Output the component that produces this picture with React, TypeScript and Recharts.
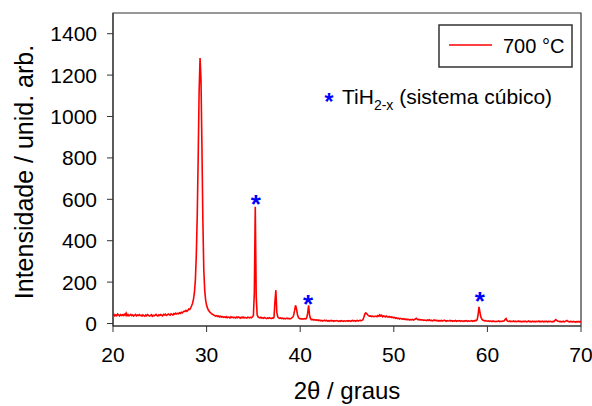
import React from 'react';
import {
  ComposedChart,
  Line,
  Scatter,
  XAxis,
  YAxis,
  ReferenceArea,
  Customized,
} from 'recharts';

const FONT = '"Liberation Sans", Arial, sans-serif';

// XRD scan: start angle, step (degrees 2θ) and counts, one row per degree
const scanStart = 20;
const scanStep = 0.1;
const counts = [
  40, 44, 37, 42, 38, 46, 41, 36, 43, 39, // 20
  42, 38, 45, 40, 50, 38, 43, 37, 41, 44, // 21
  38, 42, 36, 40, 44, 37, 41, 39, 43, 38, // 22
  40, 36, 42, 38, 35, 41, 37, 43, 39, 36, // 23
  38, 42, 35, 40, 37, 41, 44, 38, 36, 42, // 24
  39, 43, 40, 37, 44, 41, 45, 39, 42, 46, // 25
  43, 40, 47, 44, 41, 48, 45, 50, 46, 49, // 26
  47, 52, 49, 54, 51, 57, 60, 58, 63, 59, // 27
  64, 70, 68, 76, 86, 98, 118, 150, 210, 330, // 28
  520, 800, 1120, 1283, 1180, 860, 500, 260, 160, 112, // 29
  88, 74, 64, 58, 52, 49, 45, 43, 40, 38, // 30
  36, 38, 34, 36, 32, 35, 31, 33, 30, 32, // 31
  29, 33, 28, 31, 30, 27, 32, 29, 31, 28, // 32
  30, 27, 31, 28, 32, 29, 26, 30, 28, 31, // 33
  27, 30, 28, 26, 31, 29, 27, 30, 28, 33, // 34
  38, 150, 564, 130, 42, 32, 29, 27, 30, 26, // 35
  28, 25, 29, 26, 24, 27, 25, 28, 26, 24, // 36
  27, 25, 30, 105, 161, 55, 32, 27, 25, 27, // 37
  24, 26, 23, 25, 22, 24, 26, 23, 25, 22, // 38
  24, 27, 30, 40, 62, 88, 72, 45, 30, 25, // 39
  22, 24, 21, 23, 22, 24, 22, 28, 50, 88, // 40
  40, 24, 18, 20, 17, 19, 16, 18, 15, 17, // 41
  14, 16, 13, 15, 12, 14, 16, 13, 15, 12, // 42
  14, 11, 13, 15, 12, 14, 11, 13, 12, 14, // 43
  12, 10, 13, 11, 14, 12, 10, 13, 11, 12, // 44
  13, 11, 14, 12, 10, 13, 15, 12, 14, 11, // 45
  13, 15, 12, 14, 16, 13, 15, 18, 30, 45, // 46
  51, 48, 42, 38, 36, 37, 34, 36, 33, 35, // 47
  34, 36, 33, 38, 35, 42, 36, 40, 33, 37, // 48
  35, 32, 36, 33, 31, 34, 30, 33, 29, 31, // 49
  27, 29, 25, 27, 24, 26, 22, 25, 23, 21, // 50
  23, 20, 22, 19, 21, 18, 20, 17, 19, 18, // 51
  20, 17, 19, 22, 25, 21, 18, 20, 17, 19, // 52
  16, 18, 15, 17, 16, 14, 17, 15, 18, 14, // 53
  16, 13, 15, 17, 14, 16, 13, 15, 12, 14, // 54
  13, 15, 12, 14, 16, 13, 11, 14, 12, 13, // 55
  15, 12, 14, 11, 13, 12, 15, 11, 13, 12, // 56
  14, 11, 13, 12, 10, 13, 11, 14, 12, 10, // 57
  13, 11, 12, 14, 11, 13, 12, 15, 14, 18, // 58
  40, 80, 55, 32, 22, 17, 15, 13, 14, 12, // 59
  11, 13, 10, 12, 11, 9, 12, 10, 11, 9, // 60
  11, 10, 12, 9, 11, 10, 12, 11, 13, 20, // 61
  24, 14, 11, 10, 12, 9, 11, 10, 12, 9, // 62
  11, 9, 10, 12, 9, 11, 8, 10, 9, 11, // 63
  9, 11, 8, 10, 12, 9, 10, 8, 11, 9, // 64
  10, 8, 11, 9, 10, 12, 8, 10, 9, 11, // 65
  8, 10, 9, 11, 8, 10, 9, 11, 10, 8, // 66
  10, 9, 14, 19, 15, 12, 11, 9, 10, 8, // 67
  9, 11, 8, 10, 12, 15, 11, 9, 8, 10, // 68
  9, 8, 10, 9, 7, 9, 8, 10, 8, 9, // 69
  8, // 70
];

// TiH2-x peak markers (position of the asterisk)
const starAngles = [35.25, 40.85, 59.2];
const starHeights = [606, 121, 137];

const xTicks = [20, 30, 40, 50, 60, 70];
const yTicks = [0, 200, 400, 600, 800, 1000, 1200, 1400];

const data = counts.map((c, i) => ({ t: +(scanStart + i * scanStep).toFixed(1), c }));
const stars = starAngles.map((t, i) => ({ t, s: starHeights[i] }));

const Star = (props: any) => (
  <text
    x={props.cx}
    y={props.cy + 15}
    textAnchor="middle"
    fontSize={26}
    fontWeight="bold"
    fill="#0000ff"
    fontFamily={FONT}
  >
    *
  </text>
);

const XTitle = () => (
  <text x={347} y={399} textAnchor="middle" fontSize={24} fill="#000" fontFamily={FONT}>
    2θ / graus
  </text>
);

const YTitle = () => (
  <text
    x={33}
    y={172}
    transform="rotate(-90, 33, 172)"
    textAnchor="middle"
    fontSize={25}
    fill="#000"
    fontFamily={FONT}
  >
    Intensidade / unid. arb.
  </text>
);

const LegendBox = () => (
  <g fontFamily={FONT}>
    <rect x={439} y={25} width={133} height={42} fill="#fff" stroke="#333" strokeWidth={1.5} />
    <line x1={449} y1={45} x2={492} y2={45} stroke="#ff0000" strokeWidth={1.5} />
    <text x={503} y={52.5} fontSize={20} fill="#000">
      700 °C
    </text>
    <text x={329} y={110} textAnchor="middle" fontSize={23} fontWeight="bold" fill="#0000ff">
      *
    </text>
    <text x={342} y={104} fontSize={21} fill="#000">
      TiH
      <tspan fontSize={14} dy={6}>
        2-x
      </tspan>
      <tspan dy={-6}> (sistema cúbico)</tspan>
    </text>
  </g>
);

export default function App() {
  return (
    <div style={{ position: 'absolute', left: 0, top: 0, background: '#fff' }}>
      <ComposedChart
        width={592}
        height={406}
        data={data}
        margin={{ top: 13, right: 11, left: 33, bottom: 50 }}
      >
        <ReferenceArea x1={20} x2={70} y1={-12} y2={1500} fill="none" stroke="#333" strokeWidth={1.2} />
        <XAxis
          dataKey="t"
          type="number"
          domain={[20, 70]}
          ticks={xTicks}
          height={30}
          tickSize={6}
          tickMargin={15}
          stroke="#333"
          tick={{ fill: '#000', fontSize: 21, fontFamily: FONT }}
          label={<XTitle />}
          allowDataOverflow
        />
        <YAxis
          type="number"
          domain={[-12, 1500]}
          ticks={yTicks}
          width={80}
          tickSize={6}
          tickMargin={10}
          stroke="#333"
          tick={{ fill: '#000', fontSize: 21, fontFamily: FONT }}
          label={<YTitle />}
          allowDataOverflow
        />
        <Line
          dataKey="c"
          type="linear"
          stroke="#ff0000"
          strokeWidth={1.6}
          dot={false}
          isAnimationActive={false}
        />
        <Scatter data={stars} dataKey="s" shape={<Star />} isAnimationActive={false} />
        <Customized component={<LegendBox />} />
      </ComposedChart>
    </div>
  );
}
